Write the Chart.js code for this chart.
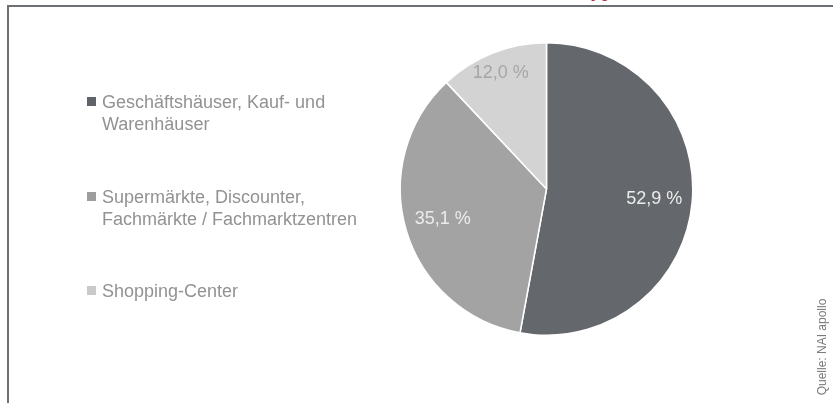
<!DOCTYPE html>
<html>
<head>
<meta charset="utf-8">
<script src="https://cdn.jsdelivr.net/npm/chart.js@4.4.0/dist/chart.umd.min.js"></script>
<style>
    html, body { margin: 0; padding: 0; background: #fff; }
    #wrap { position: relative; width: 833px; height: 403px; overflow: hidden; }
    #chart { position: absolute; left: 0; top: 0; }
    .frameTop { position: absolute; left: 7px; top: 5px; width: 826px; height: 2px; background: #6d7074; }
    .frameLeft { position: absolute; left: 7px; top: 5px; width: 2px; height: 398px; background: #6d7074; }
    .title { position: absolute; right: 220px; top: -24px; font: 22px "Liberation Serif", serif; color: #a3283a; white-space: nowrap; }
    .legend { position: absolute; left: 87px; font-family: "Liberation Sans", Arial, sans-serif; font-size: 18px; line-height: 22px; color: #929292; }
    .legend .box { position: absolute; left: 0; width: 9px; height: 9px; }
    .legend .txt { position: absolute; left: 15px; white-space: nowrap; }
    .source { position: absolute; left: 772px; top: 340px; width: 100px; transform: rotate(-90deg); transform-origin: 50% 50%; font: 12px "Liberation Sans", Arial, sans-serif; color: #7a7a7a; text-align: center; white-space: nowrap; }
</style>
</head>
<body>
<div id="wrap">
    <canvas id="chart" width="833" height="403"></canvas>
    <div class="frameTop"></div>
    <div class="frameLeft"></div>
    <div class="title">nach Typ</div>
    <div id="legend"></div>
    <div class="source">Quelle: NAI apollo</div>
</div>
<script>
// data
const categories = [
    ['Geschäftshäuser, Kauf- und', 'Warenhäuser'],
    ['Supermärkte, Discounter,', 'Fachmärkte / Fachmarktzentren'],
    ['Shopping-Center']
];
const shares = [52.9, 35.1, 12.0];
const sliceColors = ['#64676b', '#a3a3a4', '#d3d3d3'];
const legendColors = ['#5f6266', '#9d9d9e', '#c9c9c9'];
const labelColors = ['#ececec', '#ececec', '#a6a6a6'];
const labelRadius = [0.74, 0.74, 0.85];
const legendTops = [91, 186, 280];

// legend on the left
const legendEl = document.getElementById('legend');
categories.forEach((lines, i) => {
    const item = document.createElement('div');
    item.className = 'legend';
    item.style.top = legendTops[i] + 'px';
    const box = document.createElement('div');
    box.className = 'box';
    box.style.top = '6px';
    box.style.background = legendColors[i];
    const txt = document.createElement('div');
    txt.className = 'txt';
    txt.innerHTML = lines.join('<br>');
    item.appendChild(box);
    item.appendChild(txt);
    legendEl.appendChild(item);
});

const fmt = (v) => v.toFixed(1).replace('.', ',') + ' %';

// percentage labels inside the slices
const sliceLabels = {
    id: 'sliceLabels',
    afterDatasetsDraw(chart) {
        const ctx = chart.ctx;
        const meta = chart.getDatasetMeta(0);
        ctx.save();
        ctx.font = '18px "Liberation Sans", Arial, sans-serif';
        ctx.textAlign = 'center';
        ctx.textBaseline = 'middle';
        meta.data.forEach((arc, i) => {
            const p = arc.getProps(['x', 'y', 'startAngle', 'endAngle', 'outerRadius'], true);
            const mid = (p.startAngle + p.endAngle) / 2;
            const r = p.outerRadius * labelRadius[i];
            ctx.fillStyle = labelColors[i];
            ctx.fillText(fmt(shares[i]), p.x + Math.cos(mid) * r, p.y + Math.sin(mid) * r);
        });
        ctx.restore();
    }
};

new Chart(document.getElementById('chart'), {
    type: 'pie',
    data: {
        labels: categories.map(l => l.join(' ')),
        datasets: [{
            data: shares,
            backgroundColor: sliceColors,
            borderColor: '#ffffff',
            borderWidth: 1.5
        }]
    },
    options: {
        responsive: false,
        animation: false,
        layout: { padding: { left: 399.5, right: 139.5, top: 42, bottom: 67 } },
        plugins: {
            legend: { display: false },
            tooltip: { enabled: false }
        }
    },
    plugins: [sliceLabels]
});
</script>
</body>
</html>
